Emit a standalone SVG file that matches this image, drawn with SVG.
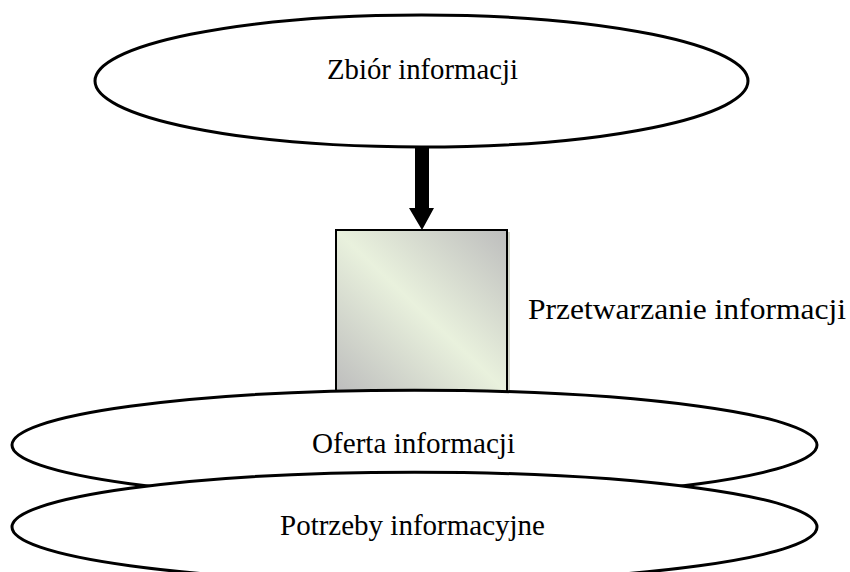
<svg xmlns="http://www.w3.org/2000/svg" width="850" height="572" viewBox="0 0 850 572">
  <style>
    .shape { fill: #ffffff; stroke: #000000; stroke-width: 3; }
    .label { font-family: "Liberation Serif", "Times New Roman", serif; font-size: 29px; fill: #000000; }
  </style>
  <defs>
    <linearGradient id="procFill" x1="1" y1="0" x2="0" y2="1">
      <stop offset="0" stop-color="#bdbdbd"/>
      <stop offset="0.5" stop-color="#e9f1dd"/>
      <stop offset="1" stop-color="#bdbdbd"/>
    </linearGradient>
  </defs>

  <!-- source node -->
  <g id="zbior">
    <ellipse class="shape" cx="421.5" cy="81" rx="326.5" ry="66"/>
    <text class="label" x="327" y="79" textLength="191" lengthAdjust="spacingAndGlyphs">Zbiór informacji</text>
  </g>

  <!-- processing block with soft right-hand shadow -->
  <g id="przetwarzanie">
    <rect x="339" y="232" width="171" height="160" fill="#b8bca8" opacity="0.6"/>
    <rect x="336" y="230" width="171" height="162" fill="url(#procFill)" stroke="#000" stroke-width="2"/>
    <text class="label" x="528" y="319" font-size="31" textLength="318" lengthAdjust="spacingAndGlyphs">Przetwarzanie informacji</text>
  </g>

  <!-- offer -->
  <g id="oferta">
    <ellipse class="shape" cx="414.5" cy="445" rx="402.5" ry="54.8"/>
    <text class="label" x="312" y="453" textLength="203" lengthAdjust="spacingAndGlyphs">Oferta informacji</text>
  </g>

  <!-- needs -->
  <g id="potrzeby">
    <ellipse class="shape" cx="414.5" cy="527" rx="402.5" ry="54.8"/>
    <text class="label" x="280" y="535" textLength="265" lengthAdjust="spacingAndGlyphs">Potrzeby informacyjne</text>
  </g>

  <!-- connectors -->
  <g id="connectors">
    <polygon points="415,147 429,147 429,208 434,208 422,230 409,208 415,208" fill="#000"/>
  </g>
</svg>
